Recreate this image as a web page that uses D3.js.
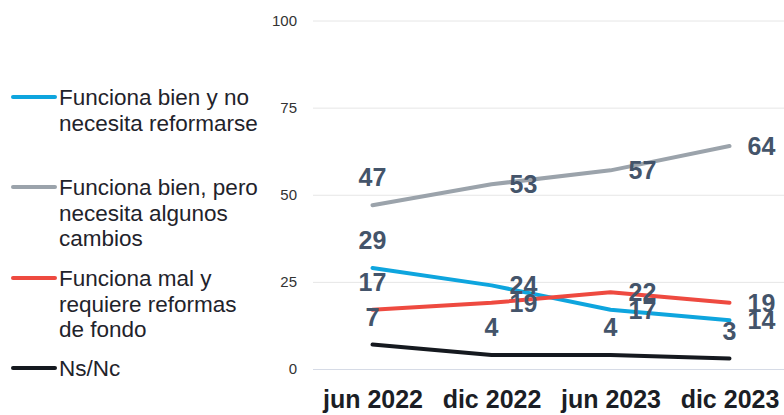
<!DOCTYPE html>
<html>
<head>
<meta charset="utf-8">
<script src="https://cdn.jsdelivr.net/npm/d3@7"></script>
<style>
  body { margin: 0; background: #fff; }
  svg { display: block; font-family: "Liberation Sans", Arial, sans-serif; }
</style>
</head>
<body>
<div id="chart"></div>
<script>

var periods = ["jun 2022", "dic 2022", "jun 2023", "dic 2023"];
var yTicks = [0, 25, 50, 75, 100];

var bienNoReforma = [29, 24, 17, 14];
var bienAlgunosCambios = [47, 53, 57, 64];
var malReformas = [17, 19, 22, 19];
var nsNc = [7, 4, 4, 3];

var seriesNames = [
    ["Funciona bien y no", "necesita reformarse"],
    ["Funciona bien, pero", "necesita algunos", "cambios"],
    ["Funciona mal y", "requiere reformas", "de fondo"],
    ["Ns/Nc"]
];
var seriesColors = ["#0ea5de", "#9ba3ab", "#ee4a40", "#15191f"];

function build_chart() {

    var width = 784,
    height = 415;

    var svg = d3.select("#chart")
        .append("svg")
            .attr("width", width)
            .attr("height", height);

    var series = [bienNoReforma, bienAlgunosCambios, malReformas, nsNc];

    var xScale = d3.scalePoint()
        .domain(periods)
        .range([313, 789])
        .padding(0.5);

    var yScale = d3.scaleLinear()
        .domain([0, 100])
        .range([369, 20.5]);

    // gridlines + y labels
    var yAxis = svg.append("g")
        .attr("transform", "translate(313,0)")
        .call(d3.axisLeft(yScale).tickValues(yTicks).tickSize(-(784 - 313)).tickPadding(16));
    yAxis.select(".domain").remove();
    yAxis.selectAll(".tick line")
        .attr("stroke", function(d){ return d == 0 ? "#d6dbe6" : "#e6e6e6"; })
        .attr("stroke-width", 1);
    yAxis.selectAll(".tick text")
        .attr("fill", "#333")
        .attr("font-size", 15)
        .attr("font-family", "Liberation Sans, Arial, sans-serif");

    // x labels
    var xAxis = svg.append("g")
        .attr("transform", "translate(0,369)")
        .call(d3.axisBottom(xScale).tickSize(0));
    xAxis.select(".domain").remove();
    xAxis.selectAll(".tick text")
        .attr("y", 39)
        .attr("dy", null)
        .attr("fill", "#1b1e25")
        .attr("font-size", 25)
        .attr("font-weight", "bold")
        .attr("font-family", "Liberation Sans, Arial, sans-serif");

    var line = d3.line()
        .x(function(d, i){ return xScale(periods[i]); })
        .y(function(d){ return yScale(d); });

    series.forEach(function(values, s) {
        svg.append("path")
            .datum(values)
            .attr("d", line)
            .attr("fill", "none")
            .attr("stroke", seriesColors[s])
            .attr("stroke-width", 4)
            .attr("stroke-linecap", "round")
            .attr("stroke-linejoin", "round");
    });

    // value labels: first point and Ns/Nc go above, the rest to the right
    series.forEach(function(values, s) {
        svg.append("g")
            .selectAll("text")
            .data(values)
            .enter()
            .append("text")
                .attr("x", function(d, i){
                    var above = (i == 0 || s == 3);
                    return xScale(periods[i]) + (above ? 0 : 32);
                })
                .attr("y", function(d, i){
                    var above = (i == 0 || s == 3);
                    return yScale(d) + (above ? -28 : 0);
                })
                .attr("dy", "0.36em")
                .attr("text-anchor", "middle")
                .attr("font-size", 25)
                .attr("font-weight", "bold")
                .attr("fill", "#44546a")
                .text(function(d){ return d; });
    });

    // legend
    var legendY = [97, 187, 278, 368];
    series.forEach(function(values, s) {
        var g = svg.append("g").attr("transform", "translate(0," + legendY[s] + ")");
        g.append("line")
            .attr("x1", 13).attr("x2", 55)
            .attr("y1", 0).attr("y2", 0)
            .attr("stroke", seriesColors[s])
            .attr("stroke-width", 4)
            .attr("stroke-linecap", "round");
        g.append("g")
            .selectAll("text")
            .data(seriesNames[s])
            .enter()
            .append("text")
                .attr("x", 59)
                .attr("y", function(d, i){ return 8 + i * 25.5; })
                .attr("font-size", 22.5)
                .attr("fill", "#1f232b")
                .text(function(d){ return d; });
    });
}
build_chart()
</script>
</body>
</html>
